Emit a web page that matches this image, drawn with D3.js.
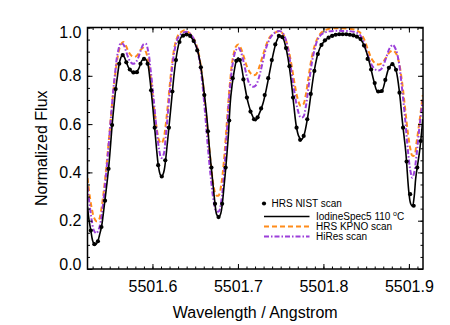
<!DOCTYPE html>
<html>
<head>
<meta charset="utf-8">
<script src="https://cdn.jsdelivr.net/npm/d3@7"></script>
<style>
body { margin: 0; background: #fff; }
text { font-family: "Liberation Sans", Arial, Helvetica, sans-serif; fill: #000; }
</style>
</head>
<body>
<div id="chart"></div>
<script>
// HRS NIST scan (dots)
var nistWave = [5501.5279, 5501.5320, 5501.5362, 5501.5403, 5501.5445, 5501.5486, 5501.5528, 5501.5569, 5501.5611, 5501.5652,
    5501.5694, 5501.5735, 5501.5777, 5501.5818, 5501.5860, 5501.5901, 5501.5943, 5501.5984, 5501.6026, 5501.6067,
    5501.6109, 5501.6150, 5501.6192, 5501.6233, 5501.6275, 5501.6316, 5501.6358, 5501.6399, 5501.6441, 5501.6482,
    5501.6524, 5501.6566, 5501.6607, 5501.6649, 5501.6690, 5501.6732, 5501.6773, 5501.6815, 5501.6856, 5501.6898,
    5501.6939, 5501.6981, 5501.7022, 5501.7064, 5501.7105, 5501.7147, 5501.7188, 5501.7230, 5501.7271, 5501.7313,
    5501.7354, 5501.7396, 5501.7437, 5501.7479, 5501.7520, 5501.7562, 5501.7603, 5501.7645, 5501.7686, 5501.7728,
    5501.7769, 5501.7811, 5501.7852, 5501.7894, 5501.7935, 5501.7977, 5501.8018, 5501.8060, 5501.8102, 5501.8143,
    5501.8185, 5501.8226, 5501.8268, 5501.8309, 5501.8351, 5501.8392, 5501.8434, 5501.8475, 5501.8517, 5501.8558,
    5501.8600, 5501.8641, 5501.8683, 5501.8724, 5501.8766, 5501.8807, 5501.8849, 5501.8890, 5501.8932, 5501.8973,
    5501.9015, 5501.9056, 5501.9098, 5501.9139];
var nistFlux = [0.159, 0.103, 0.115, 0.174, 0.283, 0.415, 0.596, 0.745, 0.85, 0.886,
    0.856, 0.826, 0.814, 0.815, 0.85, 0.87, 0.85, 0.74, 0.585, 0.43,
    0.383, 0.45, 0.585, 0.735, 0.865, 0.94, 0.966, 0.971, 0.965, 0.944,
    0.905, 0.835, 0.72, 0.57, 0.42, 0.27, 0.215, 0.27, 0.42, 0.615,
    0.79, 0.862, 0.865, 0.785, 0.71, 0.652, 0.62, 0.628, 0.665, 0.72,
    0.79, 0.865, 0.93, 0.965, 0.96, 0.915, 0.84, 0.71, 0.585, 0.535,
    0.551, 0.62, 0.725, 0.82, 0.89, 0.928, 0.947, 0.958, 0.965, 0.97,
    0.972, 0.972, 0.972, 0.97, 0.967, 0.962, 0.952, 0.925, 0.87, 0.826,
    0.77, 0.735, 0.737, 0.783, 0.833, 0.848, 0.825, 0.73, 0.585, 0.445,
    0.31, 0.262, 0.42, 0.53];

// IodineSpec5 110 C model (black line)
var iodineWave = [5501.5240, 5501.5259, 5501.5279, 5501.5298, 5501.5317, 5501.5337, 5501.5357, 5501.5380, 5501.5404, 5501.5422,
    5501.5442, 5501.5466, 5501.5489, 5501.5509, 5501.5528, 5501.5548, 5501.5571, 5501.5591, 5501.5610, 5501.5630,
    5501.5649, 5501.5670, 5501.5694, 5501.5729, 5501.5766, 5501.5805, 5501.5840, 5501.5875, 5501.5898, 5501.5922,
    5501.5945, 5501.5969, 5501.6007, 5501.6047, 5501.6068, 5501.6086, 5501.6103, 5501.6121, 5501.6138, 5501.6176,
    5501.6222, 5501.6261, 5501.6300, 5501.6339, 5501.6386, 5501.6428, 5501.6475, 5501.6515, 5501.6553, 5501.6592,
    5501.6632, 5501.6670, 5501.6709, 5501.6729, 5501.6752, 5501.6776, 5501.6799, 5501.6838, 5501.6884, 5501.6916,
    5501.6955, 5501.6980, 5501.7001, 5501.7027, 5501.7072, 5501.7118, 5501.7165, 5501.7205, 5501.7247, 5501.7290,
    5501.7334, 5501.7372, 5501.7419, 5501.7454, 5501.7489, 5501.7528, 5501.7559, 5501.7586, 5501.7626, 5501.7653,
    5501.7684, 5501.7711, 5501.7741, 5501.7770, 5501.7820, 5501.7860, 5501.7898, 5501.7937, 5501.7977, 5501.8024,
    5501.8074, 5501.8132, 5501.8191, 5501.8249, 5501.8308, 5501.8366, 5501.8425, 5501.8463, 5501.8503, 5501.8550,
    5501.8592, 5501.8632, 5501.8679, 5501.8725, 5501.8764, 5501.8803, 5501.8842, 5501.8884, 5501.8924, 5501.8963,
    5501.9001, 5501.9021, 5501.9041, 5501.9062, 5501.9080, 5501.9127, 5501.9162];
var iodineFlux = [0.257, 0.20, 0.159, 0.12, 0.104, 0.102, 0.111, 0.14, 0.175, 0.22,
    0.279, 0.35, 0.425, 0.51, 0.596, 0.67, 0.748, 0.80, 0.848, 0.875,
    0.886, 0.878, 0.856, 0.828, 0.815, 0.813, 0.83, 0.863, 0.87, 0.868,
    0.85, 0.79, 0.658, 0.50, 0.43, 0.396, 0.382, 0.39, 0.41, 0.527,
    0.693, 0.831, 0.92, 0.962, 0.972, 0.969, 0.948, 0.918, 0.865, 0.77,
    0.645, 0.486, 0.348, 0.28, 0.225, 0.215, 0.23, 0.345, 0.534, 0.713,
    0.817, 0.86, 0.875, 0.86, 0.773, 0.69, 0.638, 0.614, 0.641, 0.682,
    0.748, 0.817, 0.9, 0.945, 0.966, 0.955, 0.92, 0.872, 0.769, 0.68,
    0.589, 0.55, 0.535, 0.551, 0.638, 0.741, 0.831, 0.893, 0.928, 0.948,
    0.962, 0.97, 0.972, 0.972, 0.97, 0.965, 0.955, 0.935, 0.9, 0.838,
    0.776, 0.735, 0.735, 0.783, 0.831, 0.848, 0.831, 0.748, 0.61, 0.486,
    0.313, 0.27, 0.26, 0.30, 0.376, 0.493, 0.62];

// HRS KPNO scan and HiRes scan share one wavelength grid
var scanWave = [5501.5240, 5501.5267, 5501.5290, 5501.5314, 5501.5343, 5501.5372, 5501.5396, 5501.5419, 5501.5454, 5501.5489,
    5501.5524, 5501.5559, 5501.5594, 5501.5630, 5501.5659, 5501.5688, 5501.5723, 5501.5758, 5501.5793, 5501.5828,
    5501.5863, 5501.5893, 5501.5922, 5501.5951, 5501.5980, 5501.6015, 5501.6051, 5501.6080, 5501.6103, 5501.6127,
    5501.6156, 5501.6191, 5501.6226, 5501.6261, 5501.6296, 5501.6331, 5501.6366, 5501.6402, 5501.6437, 5501.6472,
    5501.6507, 5501.6542, 5501.6577, 5501.6612, 5501.6647, 5501.6682, 5501.6717, 5501.6746, 5501.6775, 5501.6805,
    5501.6834, 5501.6869, 5501.6904, 5501.6939, 5501.6975, 5501.7004, 5501.7033, 5501.7068, 5501.7103, 5501.7138,
    5501.7173, 5501.7208, 5501.7243, 5501.7279, 5501.7314, 5501.7349, 5501.7384, 5501.7419, 5501.7454, 5501.7489,
    5501.7524, 5501.7559, 5501.7594, 5501.7629, 5501.7664, 5501.7699, 5501.7734, 5501.7764, 5501.7793, 5501.7828,
    5501.7863, 5501.7898, 5501.7933, 5501.7980, 5501.8050, 5501.8132, 5501.8214, 5501.8308, 5501.8378, 5501.8425,
    5501.8472, 5501.8519, 5501.8565, 5501.8612, 5501.8647, 5501.8682, 5501.8729, 5501.8776, 5501.8811, 5501.8846,
    5501.8881, 5501.8916, 5501.8951, 5501.8986, 5501.9016, 5501.9039, 5501.9062, 5501.9092, 5501.9127, 5501.9162];
var kpnoFlux = [0.376, 0.30, 0.25, 0.215, 0.198, 0.202, 0.235, 0.29, 0.40, 0.53,
    0.67, 0.79, 0.88, 0.93, 0.94, 0.925, 0.898, 0.882, 0.878, 0.888,
    0.908, 0.915, 0.9, 0.86, 0.79, 0.68, 0.58, 0.53, 0.52, 0.535,
    0.6, 0.72, 0.84, 0.925, 0.965, 0.98, 0.988, 0.985, 0.975, 0.96,
    0.935, 0.89, 0.81, 0.7, 0.57, 0.44, 0.34, 0.305, 0.305, 0.35,
    0.44, 0.6, 0.76, 0.87, 0.92, 0.93, 0.915, 0.88, 0.84, 0.815,
    0.803, 0.805, 0.83, 0.87, 0.91, 0.945, 0.965, 0.975, 0.982, 0.985,
    0.975, 0.95, 0.905, 0.84, 0.765, 0.705, 0.675, 0.68, 0.72, 0.80,
    0.875, 0.925, 0.957, 0.98, 0.993, 0.997, 0.997, 0.995, 0.99, 0.98,
    0.955, 0.91, 0.87, 0.85, 0.847, 0.852, 0.873, 0.898, 0.905, 0.895,
    0.86, 0.785, 0.68, 0.57, 0.5, 0.47, 0.47, 0.53, 0.62, 0.72];
var hiresFlux = [0.34, 0.26, 0.2, 0.16, 0.148, 0.165, 0.2, 0.26, 0.38, 0.52,
    0.67, 0.8, 0.895, 0.935, 0.93, 0.905, 0.87, 0.852, 0.852, 0.87,
    0.905, 0.93, 0.933, 0.9, 0.82, 0.7, 0.57, 0.49, 0.46, 0.47,
    0.55, 0.69, 0.82, 0.91, 0.955, 0.972, 0.98, 0.982, 0.975, 0.96,
    0.93, 0.88, 0.79, 0.66, 0.51, 0.38, 0.28, 0.24, 0.238, 0.28,
    0.38, 0.56, 0.74, 0.85, 0.905, 0.916, 0.9, 0.855, 0.8, 0.765,
    0.755, 0.76, 0.79, 0.84, 0.895, 0.935, 0.96, 0.975, 0.983, 0.985,
    0.978, 0.95, 0.895, 0.81, 0.725, 0.66, 0.628, 0.63, 0.67, 0.76,
    0.85, 0.91, 0.95, 0.972, 0.983, 0.986, 0.986, 0.985, 0.98, 0.97,
    0.94, 0.885, 0.845, 0.825, 0.822, 0.83, 0.87, 0.915, 0.928, 0.91,
    0.86, 0.76, 0.64, 0.5, 0.41, 0.378, 0.4, 0.48, 0.6, 0.7];

var xTickValues = [5501.6, 5501.7, 5501.8, 5501.9];
var yTickValues = [0.0, 0.2, 0.4, 0.6, 0.8, 1.0];
var legendLabels = ["HRS NIST scan", "IodineSpec5 110 ", "HRS KPNO scan", "HiRes scan"];

function init() {

    var w = 450;
    var h = 325;
    var plotLeft = 87.5, plotRight = 423, plotTop = 27.5, plotBottom = 269;

    var xScale = d3.scaleLinear()
        .domain([5501.524, 5501.9165])
        .range([plotLeft, plotRight]);

    var yScale = d3.scaleLinear()
        .domain([0, 1])
        .range([plotBottom, plotTop]);

    var svg = d3.select("#chart")
        .append("svg")
        .attr("width", w)
        .attr("height", h);

    svg.append("clipPath")
        .attr("id", "plotclip")
        .append("rect")
        .attr("x", plotLeft)
        .attr("y", plotTop)
        .attr("width", plotRight - plotLeft)
        .attr("height", plotBottom - plotTop);

    var line = d3.line()
        .x(function(d) { return xScale(d[0]); })
        .y(function(d) { return yScale(d[1]); })
        .curve(d3.curveCatmullRom);

    var plot = svg.append("g").attr("clip-path", "url(#plotclip)");

    //KPNO (orange dashed)
    plot.append("path")
        .datum(d3.zip(scanWave, kpnoFlux))
        .attr("d", line)
        .attr("fill", "none")
        .attr("stroke", "#ff8c1a")
        .attr("stroke-width", 2)
        .attr("stroke-dasharray", "5,3");

    //HiRes (purple dash dot)
    plot.append("path")
        .datum(d3.zip(scanWave, hiresFlux))
        .attr("d", line)
        .attr("fill", "none")
        .attr("stroke", "#9b3fd9")
        .attr("stroke-width", 2)
        .attr("stroke-dasharray", "5,2,1.5,2");

    //IodineSpec5 (black)
    plot.append("path")
        .datum(d3.zip(iodineWave, iodineFlux))
        .attr("d", line)
        .attr("fill", "none")
        .attr("stroke", "#000")
        .attr("stroke-width", 1.6);

    //NIST dots
    plot.selectAll("circle.nist")
        .data(d3.zip(nistWave, nistFlux))
        .enter()
        .append("circle")
        .attr("class", "nist")
        .attr("cx", function(d) { return xScale(d[0]); })
        .attr("cy", function(d) { return yScale(d[1]); })
        .attr("r", 2.1)
        .attr("fill", "#000");

    // minor ticks, all four sides, pointing in
    var minorX = xScale.ticks(40);
    var minorY = yScale.ticks(20);

    function tickAxis(axis, pos, size) {
        var g = svg.append("g")
            .attr("transform", pos)
            .call(axis.tickSize(size).tickFormat(""));
        g.select(".domain").remove();
        g.selectAll("line").attr("stroke-width", 1);
        return g;
    }

    tickAxis(d3.axisBottom(xScale).tickValues(minorX), "translate(0," + plotBottom + ")", -2.5);
    tickAxis(d3.axisTop(xScale).tickValues(minorX), "translate(0," + plotTop + ")", -2.5);
    tickAxis(d3.axisLeft(yScale).tickValues(minorY), "translate(" + plotLeft + ",0)", -2.5);
    tickAxis(d3.axisRight(yScale).tickValues(minorY), "translate(" + plotRight + ",0)", -2.5);
    tickAxis(d3.axisTop(xScale).tickValues(xTickValues), "translate(0," + plotTop + ")", -5);
    tickAxis(d3.axisRight(yScale).tickValues(yTickValues), "translate(" + plotRight + ",0)", -5);

    // labelled axes
    var xAxis = d3.axisBottom(xScale)
        .tickValues(xTickValues)
        .tickSize(-5)
        .tickPadding(12)
        .tickFormat(d3.format(".1f"));

    var yAxis = d3.axisLeft(yScale)
        .tickValues(yTickValues)
        .tickSize(-5)
        .tickPadding(6)
        .tickFormat(d3.format(".1f"));

    var gx = svg.append("g")
        .attr("transform", "translate(0," + plotBottom + ")")
        .call(xAxis);
    var gy = svg.append("g")
        .attr("transform", "translate(" + plotLeft + ",0)")
        .call(yAxis);

    [gx, gy].forEach(function(g) {
        g.select(".domain").remove();
        g.selectAll("line").attr("stroke-width", 1);
        g.selectAll("text")
            .attr("font-family", "Liberation Sans, Arial, sans-serif")
            .attr("font-size", 16)
            .attr("fill", "#000");
    });

    // end labels sit inside the frame
    gy.selectAll(".tick text")
        .attr("dy", function(d) {
            if (d === 1) return "0.6em";
            if (d === 0) return "0.05em";
            return "0.32em";
        });

    // frame
    svg.append("rect")
        .attr("x", plotLeft)
        .attr("y", plotTop)
        .attr("width", plotRight - plotLeft)
        .attr("height", plotBottom - plotTop)
        .attr("fill", "none")
        .attr("stroke", "#000")
        .attr("stroke-width", 1.5);

    // axis titles
    svg.append("text")
        .attr("x", (plotLeft + plotRight) / 2)
        .attr("y", 318)
        .attr("text-anchor", "middle")
        .attr("font-size", 16)
        .text("Wavelength / Angstrom");

    svg.append("text")
        .attr("transform", "translate(47," + ((plotTop + plotBottom) / 2) + ") rotate(-90)")
        .attr("text-anchor", "middle")
        .attr("font-size", 16)
        .text("Normalized Flux");

    // legend
    var lg = svg.append("g").attr("font-size", 10);
    var rowY = [203.5, 216.5, 226.5, 236.5];

    lg.append("circle")
        .attr("cx", 264).attr("cy", rowY[0]).attr("r", 2.1).attr("fill", "#000");
    lg.append("text")
        .attr("x", 271.5).attr("y", rowY[0] + 3.6)
        .text(legendLabels[0]);

    var styles = [
        {stroke: "#000", width: 1.6, dash: null},
        {stroke: "#ff8c1a", width: 2, dash: "5,3"},
        {stroke: "#9b3fd9", width: 2, dash: "5,2,1.5,2"}
    ];
    styles.forEach(function(s, i) {
        lg.append("line")
            .attr("x1", 264).attr("x2", 309.5)
            .attr("y1", rowY[i + 1]).attr("y2", rowY[i + 1])
            .attr("stroke", s.stroke)
            .attr("stroke-width", s.width)
            .attr("stroke-dasharray", s.dash);
    });

    var t1 = lg.append("text")
        .attr("x", 316).attr("y", rowY[1] + 3.6)
        .text(legendLabels[1]);
    t1.append("tspan").attr("dy", -4).attr("font-size", 7).text("o");
    t1.append("tspan").attr("dy", 4).text("C");

    lg.append("text")
        .attr("x", 316).attr("y", rowY[2] + 3.6)
        .text(legendLabels[2]);
    lg.append("text")
        .attr("x", 316).attr("y", rowY[3] + 3.6)
        .text(legendLabels[3]);
}
window.onload = init;
</script>
</body>
</html>
